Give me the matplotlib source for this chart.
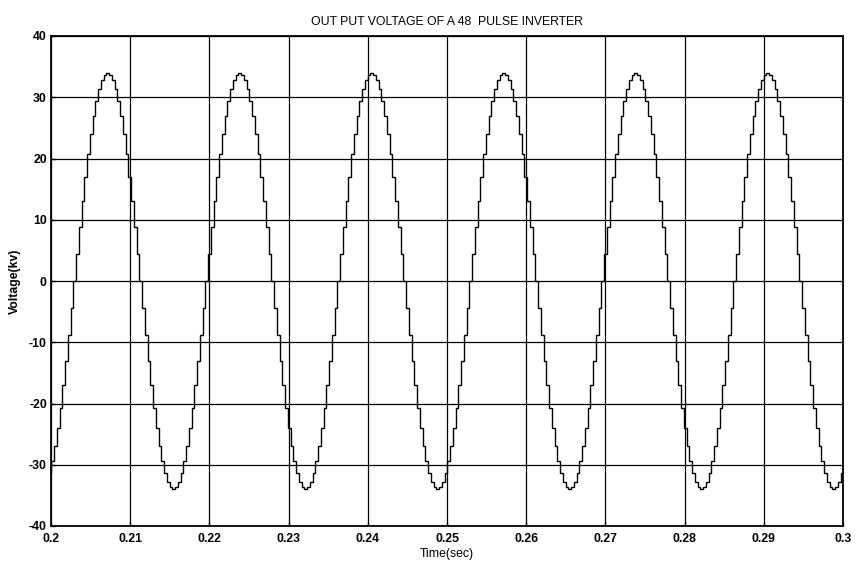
import numpy as np
import matplotlib
matplotlib.use("Agg")
import matplotlib.pyplot as plt
from matplotlib import font_manager

# ---- data ----
title = "OUT PUT VOLTAGE OF A 48  PULSE INVERTER"
x_label = "Time(sec)"
y_label = "Voltage(kv)"
x_ticks = [0.2, 0.21, 0.22, 0.23, 0.24, 0.25, 0.26, 0.27, 0.28, 0.29, 0.3]
x_tick_labels = ["0.2", "0.21", "0.22", "0.23", "0.24", "0.25", "0.26", "0.27", "0.28", "0.29", "0.3"]
y_ticks = [-40, -30, -20, -10, 0, 10, 20, 30, 40]
# staircase levels (kV) of one quarter cycle, from zero crossing up to the peak
quarter_levels = [0.0, 4.4, 8.8, 13.0, 17.0, 20.7, 24.0, 27.0, 29.4, 31.4, 32.8, 33.7, 34.0]
steps_per_cycle = 48
cycle_period = 0.016667      # s (peak-to-peak spacing)
first_rising_zero = 0.2030   # s
t_start, t_end = 0.2, 0.3

# ---- build staircase from the read levels ----
n_q = len(quarter_levels) - 1
def level(k):
    i = k % steps_per_cycle
    if i <= n_q:
        return quarter_levels[i]
    if i <= 2 * n_q:
        return quarter_levels[2 * n_q - i]
    if i <= 3 * n_q:
        return -quarter_levels[i - 2 * n_q]
    return -quarter_levels[4 * n_q - i]

dt = cycle_period / steps_per_cycle
k0 = int(np.floor((t_start - first_rising_zero) / dt)) - 1
k1 = int(np.ceil((t_end - first_rising_zero) / dt)) + 1
ks = list(range(k0, k1 + 1))
values = [level(k) for k in ks]
edges = [first_rising_zero + (k - 0.5) * dt for k in ks] + [first_rising_zero + (ks[-1] + 0.5) * dt]

# ---- fonts ----
names = {f.name for f in font_manager.fontManager.ttflist}
fam = "Liberation Sans Narrow" if "Liberation Sans Narrow" in names else "Liberation Sans"
plt.rcParams["font.family"] = [fam, "DejaVu Sans"]
fs = 9.5 if fam.endswith("Narrow") else 8.8

fig = plt.figure(figsize=(8.55, 5.71), dpi=100)
ax = fig.add_axes([51 / 855, 1 - 526 / 571, (843 - 51) / 855, (526 - 36) / 571])

ax.stairs(values, edges, color="black", linewidth=1.0, baseline=None)

ax.set_xlim(t_start, t_end)
ax.set_ylim(-40, 40)
ax.set_xticks(x_ticks)
ax.set_xticklabels(x_tick_labels, fontsize=fs, fontweight="bold")
ax.set_yticks(y_ticks)
ax.set_yticklabels([str(v) for v in y_ticks], fontsize=fs, fontweight="bold")
ax.tick_params(direction="in", length=3, width=1, colors="black")
ax.tick_params(axis="x", pad=5)
ax.tick_params(axis="y", pad=3)
ax.grid(True, color="black", linewidth=0.9, linestyle="-")
ax.set_axisbelow(True)
for s in ax.spines.values():
    s.set_linewidth(1.3)
    s.set_color("black")

ax.set_title(title, fontsize=fs, pad=8)
ax.set_xlabel(x_label, fontsize=fs, labelpad=2)
ax.set_ylabel(y_label, fontsize=fs, fontweight="bold", labelpad=6)

fig.savefig("out.png", dpi=100, facecolor="white")
